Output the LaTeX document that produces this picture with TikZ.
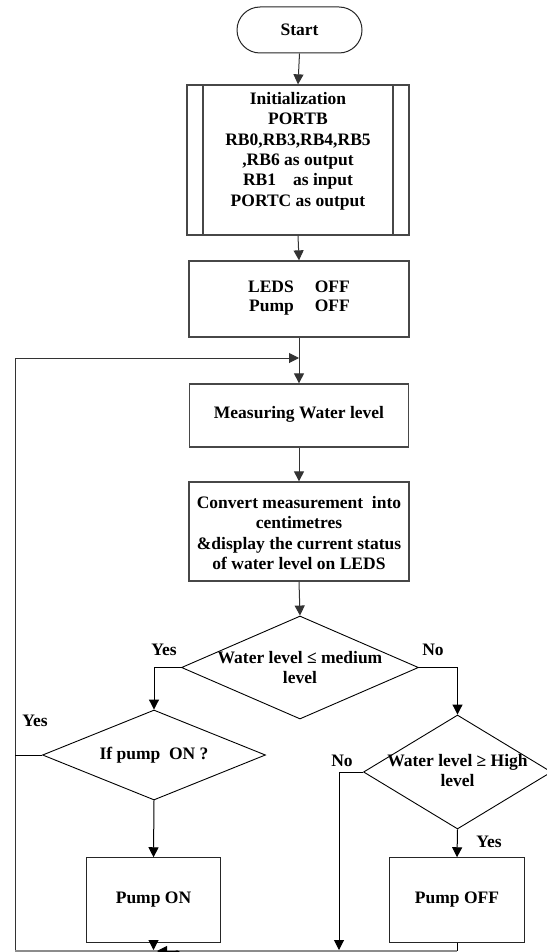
\documentclass[tikz,border=0pt]{standalone}
\usepackage{fontspec}
\setmainfont{Liberation Serif}
\usetikzlibrary{arrows.meta,shapes.geometric}
\begin{document}
\begin{tikzpicture}[x=1pt,y=-1pt,
  box/.style={draw=black!72, line width=1.3pt, rectangle, inner sep=0pt},
  dia/.style={draw=black, line width=0.9pt, diamond, inner sep=0pt, aspect=1},
  txt/.style={font=\fontsize{17.5}{20.4}\selectfont\bfseries, align=center, inner sep=0pt},
  lbl/.style={font=\fontsize{17.5}{20.4}\selectfont\bfseries, inner sep=0pt},
  conn/.style={draw=black!80, line width=1pt},
  arr/.style={conn, -{Triangle[length=10pt,width=10pt]}}
]
\useasboundingbox (0,0) rectangle (546,952);
\fill[white] (0,0) rectangle (546,952);

% nodes
\node[box, line width=1pt, draw=black!85, rounded corners=23pt, minimum width=125pt, minimum height=46pt] (start) at (299.5,30) {};
\node[txt] (starttxt) at (start) {Start};

\node[box, minimum width=222pt, minimum height=150pt] (init) at (298,160) {};
\draw[draw=black!72, line width=1.3pt] (203,85) -- (203,235);
\draw[draw=black!72, line width=1.3pt] (393,85) -- (393,235);
\node[txt] (inittxt) at (298,151) {Initialization\\PORTB\\RB0,RB3,RB4,RB5\\,RB6 as output\\RB1\hspace{17pt}as input\\PORTC as output};

\node[box, minimum width=220pt, minimum height=76pt] (leds) at (299,299) {};
\node[txt] (ledstxt) at (299,298) {\begin{tabular}{@{}r@{\hspace{21pt}}l@{}}LEDS & OFF\\[-1pt] Pump & OFF\end{tabular}};

\node[box, minimum width=219pt, minimum height=63pt] (measure) at (299,415.5) {};
\node[txt] (measuretxt) at (299,414) {Measuring Water level};

\node[box, minimum width=220pt, minimum height=99pt] (convert) at (299,531.5) {};
\node[txt] (converttxt) at (299,533) {Convert measurement\ \ into\\centimetres\\\&display the current status\\of water level on LEDS};

\node[dia, minimum width=237pt, minimum height=103pt] (d1) at (300,667.5) {};
\node[txt] (d1txt) at (300,667.5) {Water level ≤ medium\\level};

\node[dia, minimum width=223pt, minimum height=90pt] (dif) at (154,755) {};
\node[txt] (diftxt) at (154,755) {If pump\ \ ON ?};

\node[dia, minimum width=188pt, minimum height=114pt] (d2) at (457.5,772) {};
\node[txt] (d2txt) at (457.5,770.5) {Water level ≥ High\\level};

\node[box, line width=1pt, draw=black!85, minimum width=134.5pt, minimum height=84.5pt] (pon) at (153.5,900) {};
\node[txt] (pontxt) at (153.5,900) {Pump ON};

\node[box, line width=1pt, draw=black!85, minimum width=135pt, minimum height=84.5pt] (poff) at (457,900) {};
\node[txt] (pofftxt) at (457,900) {Pump OFF};

% labels
\node[lbl] (y1) at (164,650) {Yes};
\node[lbl] (n1) at (433,650) {No};
\node[lbl] (y2) at (35,721) {Yes};
\node[lbl] (n2) at (342,761) {No};
\node[lbl] (y3) at (489,842) {Yes};

% coordinates
\coordinate (j) at (299,358);
\coordinate (ctl) at (15,358);
\coordinate (cbl) at (15,951);
\coordinate (nb) at (339,950);
\coordinate (pb) at (153.5,950);
\coordinate (ob) at (457,951);
\coordinate (ah) at (177,951);
\coordinate (at) at (157,951);

% connectors
\draw[arr] (start.south) -- (init.north);
\draw[arr] (init.south) -- (leds.north);
\draw[arr] (leds.south) -- (measure.north);
\draw[arr] (cbl) -- (ctl) -- (j);
\draw[arr] (measure.south) -- (convert.north);
\draw[arr] (convert.south) -- (d1.north);
\draw[arr, draw=black] (d1.west) -| (dif.north);
\draw[arr, draw=black] (d1.east) -| (d2.north);
\draw[conn, draw=black] (dif.west) -- (dif.west -| ctl);
\draw[arr, draw=black] (dif.south) -- (pon.north);
\draw[arr, draw=black] (d2.south) -- (poff.north);
\draw[arr, draw=black] (d2.west) -| (nb);
\draw[arr, draw=black] (pon.south) -- (pb);
\draw[conn, draw=black] (poff.south) -- (ob);
\draw[conn, draw=black!45, line width=1.3pt] (ob) -- (cbl);
\draw[arr, draw=black] (ah) -- (at);
\fill[black] (ah) ++(0,2.5) circle (3.2pt);
\end{tikzpicture}
\end{document}
